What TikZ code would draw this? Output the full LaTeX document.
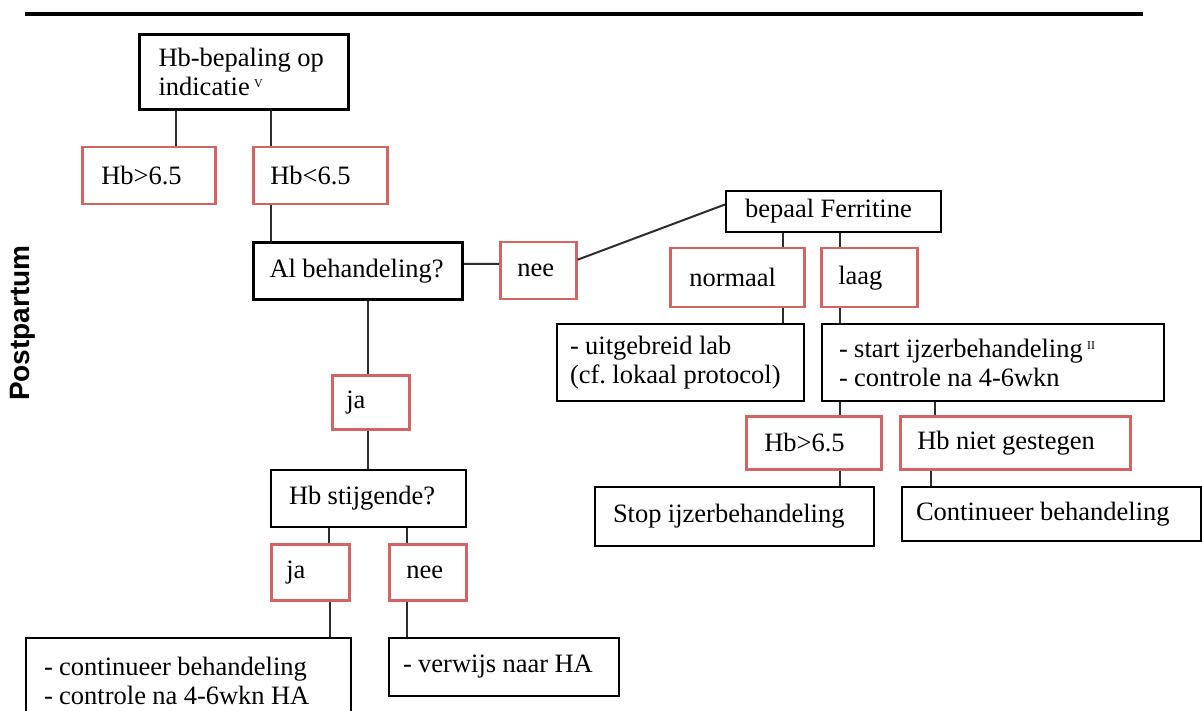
\documentclass[tikz,border=0pt]{standalone}
\usepackage{fontspec}
\setmainfont{Liberation Serif}
\newfontfamily\sansb{Liberation Sans}
\usetikzlibrary{calc}
\definecolor{condred}{RGB}{210,100,100}
\definecolor{linegray}{RGB}{45,45,45}
\tikzset{
  bx/.style={draw=black, line width=2pt, rectangle, inner xsep=0pt, inner ysep=0pt,
             align=left, anchor=north west,
             font=\fontsize{26.5}{29}\selectfont,
             execute at begin node={\frenchspacing\spaceskip=0.24em\relax\xspaceskip=0.24em\relax}},
  thk/.style={bx, line width=3pt},
  cond/.style={bx, draw=condred, line width=2.5pt},
  conn/.style={draw=linegray, line width=2pt}
}
\newcommand{\supmark}[1]{\raisebox{8pt}{\fontsize{12}{12}\selectfont #1}}
\begin{document}
\begin{tikzpicture}[x=1pt,y=-1pt]
\useasboundingbox (0,0) rectangle (1202,711);
\clip (0,0) rectangle (1202,711);
\fill[white] (0,0) rectangle (1202,711);
\draw[line width=4pt] (25,14) -- (1143,14);
\node[rotate=90, font=\sansb\bfseries\fontsize{28}{30}\selectfont] (pp) at (23,323) {Postpartum};

\node[thk, minimum width=209pt, minimum height=75pt, text width=171pt] (top) at (138,33) {Hb-bepaling op\\indicatie\,\supmark{V}};
\node[cond, minimum width=133pt, minimum height=57pt, text width=95pt] (hbgt) at (81,146) {Hb>6.5};
\node[cond, minimum width=134pt, minimum height=57pt, text width=100pt] (hblt) at (252,146) {Hb<6.5};
\node[thk, minimum width=209pt, minimum height=57pt, text width=177pt] (al) at (252,241) {Al behandeling?};
\node[cond, minimum width=76pt, minimum height=57pt, text width=42pt] (nee) at (499,241) {nee};
\node[bx, minimum width=215pt, minimum height=41pt, text width=177pt] (ferr) at (725,190) {bepaal Ferritine};
\node[cond, minimum width=134pt, minimum height=59pt, text width=96pt] (norm) at (669,247) {normaal};
\node[cond, minimum width=96pt, minimum height=59pt, text width=62pt] (laag) at (820,247) {laag};
\node[bx, minimum width=247pt, minimum height=77pt, text width=221pt] (lab) at (556,323) {- uitgebreid lab\\(cf. lokaal protocol)};
\node[bx, minimum width=342pt, minimum height=77pt, text width=308pt] (start) at (821,323) {- start ijzerbehandeling\,\supmark{II}\\- controle na 4-6wkn};
\node[cond, minimum width=135pt, minimum height=53pt, text width=99pt] (hbgt2) at (745,415) {Hb>6.5};
\node[cond, minimum width=230pt, minimum height=53pt, text width=196pt] (niet) at (899,415) {Hb niet gestegen};
\node[bx, minimum width=279pt, minimum height=59pt, text width=243pt] (stop) at (594,486) {Stop ijzerbehandeling};
\node[bx, minimum width=299pt, minimum height=54pt, text width=271pt] (cont) at (901,486) {Continueer behandeling};
\node[cond, minimum width=77pt, minimum height=54pt, text width=49pt] (ja1) at (331,374) {ja};
\node[bx, minimum width=195pt, minimum height=57pt, text width=159pt] (stij) at (270,469) {Hb stijgende?};
\node[cond, minimum width=78pt, minimum height=56pt, text width=48pt] (ja2) at (270,543) {ja};
\node[cond, minimum width=77pt, minimum height=56pt, text width=43pt] (nee2) at (388,543) {nee};
\node[bx, minimum width=325pt, minimum height=86pt, text width=289pt] (contb) at (25,637) {- continueer behandeling\\- controle na 4-6wkn HA};
\node[bx, minimum width=230pt, minimum height=58pt, text width=202pt] (verw) at (388,637) {- verwijs naar HA};

\draw[conn] (top.south -| 176,0) -- (hbgt.north -| 176,0);
\draw[conn] (top.south -| 271,0) -- (hblt.north -| 271,0);
\draw[conn] (hblt.south -| 271,0) -- (al.north -| 271,0);
\draw[conn] ($(al.east)+(0,-7)$) -- ($(nee.west)+(0,-7)$);
\draw[conn] ($(nee.east)+(0,-11)$) -- ($(ferr.west)+(0,-7)$);
\draw[conn] (ferr.south -| 783,0) -- (norm.north -| 783,0);
\draw[conn] (ferr.south -| 840,0) -- (laag.north -| 840,0);
\draw[conn] (norm.south -| 783,0) -- (lab.north -| 783,0);
\draw[conn] (laag.south -| 840,0) -- (start.north -| 840,0);
\draw[conn] (start.south -| 840,0) -- (hbgt2.north -| 840,0);
\draw[conn] (start.south -| 935,0) -- (niet.north -| 935,0);
\draw[conn] (hbgt2.south -| 840,0) -- (stop.north -| 840,0);
\draw[conn] (niet.south -| 931,0) -- (cont.north -| 931,0);
\draw[conn] (al.south -| 368,0) -- (ja1.north -| 368,0);
\draw[conn] (ja1.south -| 368,0) -- (stij.north -| 368,0);
\draw[conn] (stij.south -| 329,0) -- (ja2.north -| 329,0);
\draw[conn] (stij.south -| 407,0) -- (nee2.north -| 407,0);
\draw[conn] (ja2.south -| 330,0) -- (contb.north -| 330,0);
\draw[conn] (nee2.south -| 407,0) -- (verw.north -| 407,0);
\end{tikzpicture}
\end{document}
